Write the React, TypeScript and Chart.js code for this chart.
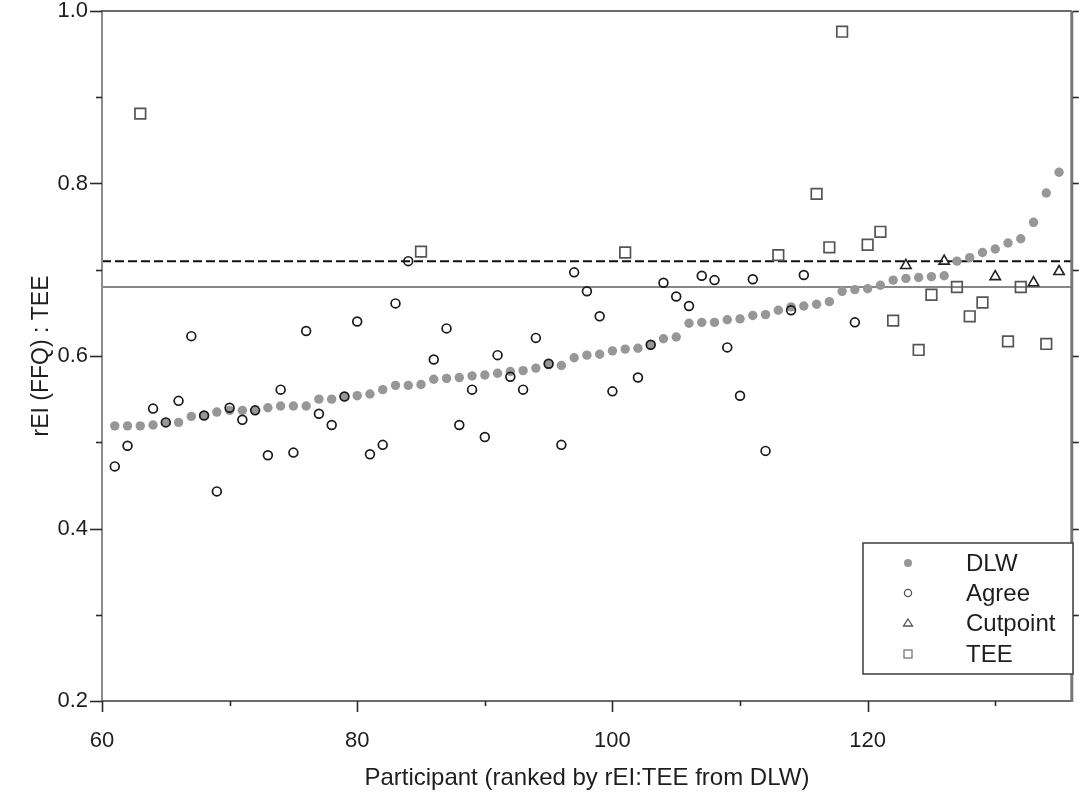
import React, { useEffect, useRef } from 'react';
import { Chart, registerables } from 'chart.js';

Chart.register(...registerables);

// ---------- data ----------
const dlwParticipants = [
  61, 62, 63, 64, 65, 66, 67, 68, 69, 70, 71, 72, 73, 74, 75, 76, 77, 78, 79, 80,
  81, 82, 83, 84, 85, 86, 87, 88, 89, 90, 91, 92, 93, 94, 95, 96, 97, 98, 99, 100,
  101, 102, 103, 104, 105, 106, 107, 108, 109, 110, 111, 112, 113, 114, 115, 116, 117, 118, 119, 120,
  121, 122, 123, 124, 125, 126, 127, 128, 129, 130, 131, 132, 133, 134, 135,
];
const dlwValues = [
  0.519, 0.519, 0.519, 0.52, 0.523, 0.523, 0.53, 0.531, 0.535, 0.537, 0.537, 0.537, 0.54, 0.542, 0.542, 0.542, 0.55, 0.55, 0.553, 0.554,
  0.556, 0.561, 0.566, 0.566, 0.567, 0.573, 0.574, 0.575, 0.577, 0.578, 0.58, 0.582, 0.583, 0.586, 0.59, 0.589, 0.598, 0.601, 0.602, 0.606,
  0.608, 0.609, 0.613, 0.62, 0.622, 0.638, 0.639, 0.639, 0.642, 0.643, 0.647, 0.648, 0.653, 0.657, 0.658, 0.66, 0.663, 0.675, 0.677, 0.678,
  0.682, 0.688, 0.69, 0.691, 0.692, 0.693, 0.71, 0.714, 0.72, 0.724, 0.731, 0.736, 0.755, 0.789, 0.813,
];

const agreeParticipants = [
  61, 62, 64, 65, 66, 67, 68, 69, 70, 71, 72, 73, 74, 75, 76, 77, 78, 79, 80, 81,
  82, 83, 84, 86, 87, 88, 89, 90, 91, 92, 93, 94, 95, 96, 97, 98, 99, 100, 102, 103,
  104, 105, 106, 107, 108, 109, 110, 111, 112, 114, 115, 119,
];
const agreeValues = [
  0.472, 0.496, 0.539, 0.523, 0.548, 0.623, 0.531, 0.443, 0.54, 0.526, 0.537, 0.485, 0.561, 0.488, 0.629, 0.533, 0.52, 0.553, 0.64, 0.486,
  0.497, 0.661, 0.71, 0.596, 0.632, 0.52, 0.561, 0.506, 0.601, 0.576, 0.561, 0.621, 0.591, 0.497, 0.697, 0.675, 0.646, 0.559, 0.575, 0.613,
  0.685, 0.669, 0.658, 0.693, 0.688, 0.61, 0.554, 0.689, 0.49, 0.653, 0.694, 0.639,
];

const cutpointParticipants = [123, 126, 130, 133, 135];
const cutpointValues = [0.705, 0.71, 0.692, 0.685, 0.698];

const teeParticipants = [63, 85, 101, 113, 116, 117, 118, 120, 121, 122, 124, 125, 127, 128, 129, 131, 132, 134];
const teeValues = [0.881, 0.721, 0.72, 0.717, 0.788, 0.726, 0.976, 0.729, 0.744, 0.641, 0.607, 0.671, 0.68, 0.646, 0.662, 0.617, 0.68, 0.614];

const dashedLineValue = 0.71;
const solidLineValue = 0.68;

const xTickLabels = [60, 80, 100, 120];
const xMinorTicks = [70, 90, 110, 130];
const yTickLabels = [0.2, 0.4, 0.6, 0.8, 1.0];
const yMinorTicks = [0.3, 0.5, 0.7, 0.9];

const xRange = [60, 136];
const yRange = [0.2, 1.0];

const legendLabels = ['DLW', 'Agree', 'Cutpoint', 'TEE'];

const FONT = "'Liberation Sans', Arial, sans-serif";
const TEXT = '#1e1e1e';

const zip = (xs: number[], ys: number[]) => xs.map((x, i) => ({ x, y: ys[i] }));

const framePlugin = {
  id: 'frameAndLegend',
  afterDraw(chart: any) {
    const { ctx, chartArea: ca, scales } = chart;
    const xs = scales.x;
    const ys = scales.y;
    ctx.save();
    // frame
    ctx.lineCap = 'butt';
    ctx.strokeStyle = '#8c8c8c';
    ctx.lineWidth = 2;
    ctx.beginPath();
    ctx.moveTo(ca.left, ca.top);
    ctx.lineTo(ca.left, ca.bottom);
    ctx.stroke();
    ctx.strokeStyle = '#6a6a6a';
    ctx.beginPath();
    ctx.moveTo(ca.left - 1, ca.top);
    ctx.lineTo(ca.right, ca.top);
    ctx.stroke();
    ctx.beginPath();
    ctx.moveTo(ca.left, ca.bottom);
    ctx.lineTo(ca.right, ca.bottom);
    ctx.stroke();
    ctx.strokeStyle = '#777777';
    ctx.lineWidth = 3;
    ctx.beginPath();
    ctx.moveTo(ca.right, ca.top);
    ctx.lineTo(ca.right, ca.bottom + 1);
    ctx.stroke();

    // ticks
    ctx.strokeStyle = '#2a2a2a';
    ctx.lineWidth = 1.6;
    const yLine = (v: number, x0: number, x1: number) => {
      const p = Math.round(ys.getPixelForValue(v)) + 0.5;
      ctx.beginPath();
      ctx.moveTo(x0, p);
      ctx.lineTo(x1, p);
      ctx.stroke();
    };
    const xLine = (v: number, y0: number, y1: number) => {
      const p = Math.round(xs.getPixelForValue(v)) + 0.5;
      ctx.beginPath();
      ctx.moveTo(p, y0);
      ctx.lineTo(p, y1);
      ctx.stroke();
    };
    yTickLabels.forEach((v) => yLine(v, ca.left - 12, ca.left));
    yMinorTicks.forEach((v) => yLine(v, ca.left - 6, ca.left));
    [...yTickLabels, ...yMinorTicks].forEach((v) => {
      if (v < 0.25) return;
      yLine(v, ca.right + 1, ca.right + 7);
    });
    xTickLabels.forEach((v) => xLine(v, ca.bottom, ca.bottom + 11));
    xMinorTicks.forEach((v) => xLine(v, ca.bottom, ca.bottom + 5));

    // legend
    const bx = 863, by = 543, bw = 210, bh = 131;
    ctx.fillStyle = '#ffffff';
    ctx.fillRect(bx, by, bw, bh);
    ctx.strokeStyle = '#3c3c3c';
    ctx.lineWidth = 1.5;
    ctx.strokeRect(bx, by, bw, bh);
    const rows = [563, 593, 623, 654];
    const mx = 908;
    ctx.font = `24px ${FONT}`;
    ctx.textBaseline = 'middle';
    ctx.textAlign = 'left';
    legendLabels.forEach((lab, i) => {
      const y = rows[i];
      ctx.lineWidth = 1.3;
      if (i === 0) {
        ctx.fillStyle = '#979797';
        ctx.beginPath();
        ctx.arc(mx, y, 4, 0, Math.PI * 2);
        ctx.fill();
      } else if (i === 1) {
        ctx.strokeStyle = '#555555';
        ctx.beginPath();
        ctx.arc(mx, y, 3.6, 0, Math.PI * 2);
        ctx.stroke();
      } else if (i === 2) {
        ctx.strokeStyle = '#555555';
        ctx.beginPath();
        ctx.moveTo(mx, y - 4);
        ctx.lineTo(mx + 4.5, y + 3);
        ctx.lineTo(mx - 4.5, y + 3);
        ctx.closePath();
        ctx.stroke();
      } else {
        ctx.strokeStyle = '#777777';
        ctx.strokeRect(mx - 4, y - 4, 8, 8);
      }
      ctx.fillStyle = TEXT;
      ctx.fillText(lab, 966, y + 1);
    });
    ctx.restore();
  },
};

export default function App() {
  const ref = useRef<HTMLCanvasElement>(null);

  useEffect(() => {
    document.body.style.margin = '0';
    const canvas = ref.current;
    if (!canvas) return;
    const chart = new Chart(canvas, {
      type: 'scatter',
      data: {
        datasets: [
          {
            label: 'DLW',
            data: zip(dlwParticipants, dlwValues),
            pointStyle: 'circle',
            pointRadius: 4.7,
            pointBackgroundColor: '#979797',
            pointBorderWidth: 0,
            borderColor: '#979797',
            backgroundColor: '#979797',
            order: 5,
          } as any,
          {
            label: 'Agree',
            data: zip(agreeParticipants, agreeValues),
            pointStyle: 'circle',
            pointRadius: 4.4,
            pointBackgroundColor: 'rgba(0,0,0,0)',
            pointBorderColor: '#1a1a1a',
            pointBorderWidth: 1.7,
            order: 1,
          } as any,
          {
            label: 'Cutpoint',
            data: zip(cutpointParticipants, cutpointValues),
            pointStyle: 'triangle',
            pointRadius: 6,
            pointBackgroundColor: 'rgba(0,0,0,0)',
            pointBorderColor: '#222222',
            pointBorderWidth: 1.6,
            order: 1,
          } as any,
          {
            label: 'TEE',
            data: zip(teeParticipants, teeValues),
            pointStyle: 'rect',
            pointRadius: 7.5,
            pointBackgroundColor: 'rgba(0,0,0,0)',
            pointBorderColor: '#555555',
            pointBorderWidth: 1.7,
            order: 1,
          } as any,
          {
            type: 'line',
            label: 'dashed',
            data: [
              { x: xRange[0], y: dashedLineValue },
              { x: xRange[1], y: dashedLineValue },
            ],
            borderColor: '#111111',
            borderWidth: 2,
            borderDash: [9, 4],
            pointRadius: 0,
            showLine: true,
            order: 10,
          } as any,
          {
            type: 'line',
            label: 'solid',
            data: [
              { x: xRange[0], y: solidLineValue },
              { x: xRange[1], y: solidLineValue },
            ],
            borderColor: '#888888',
            borderWidth: 2,
            pointRadius: 0,
            showLine: true,
            order: 10,
          } as any,
        ],
      },
      options: {
        responsive: false,
        animation: false,
        devicePixelRatio: 1,
        layout: { padding: { top: 11, right: 6, left: 0, bottom: 0 } },
        plugins: {
          legend: { display: false },
          tooltip: { enabled: false },
        },
        scales: {
          x: {
            type: 'linear',
            min: xRange[0],
            max: xRange[1],
            grid: { display: false, drawTicks: false },
            border: { display: false },
            ticks: {
              stepSize: 10,
              padding: 27,
              color: TEXT,
              font: { family: FONT, size: 22 },
              maxRotation: 0,
              autoSkip: false,
              callback: (v: any) => (xTickLabels.includes(Number(v)) ? String(v) : ''),
            },
            title: {
              display: true,
              text: 'Participant (ranked by rEI:TEE from DLW)',
              color: TEXT,
              font: { family: FONT, size: 24 },
              padding: { top: 0, bottom: 2 },
            },
            afterFit: (s: any) => {
              s.height = 94;
              s.paddingLeft = 0;
              s.paddingRight = 0;
              s.paddingTop = 0;
              s.paddingBottom = 0;
            },
          },
          y: {
            type: 'linear',
            min: yRange[0],
            max: yRange[1],
            grid: { display: false, drawTicks: false },
            border: { display: false },
            ticks: {
              stepSize: 0.1,
              padding: 14,
              color: TEXT,
              font: { family: FONT, size: 22 },
              autoSkip: false,
              callback: (v: any) => {
                const n = Number(v);
                return yTickLabels.some((t) => Math.abs(t - n) < 1e-6) ? n.toFixed(1) : '';
              },
            },
            title: {
              display: true,
              text: 'rEI (FFQ) : TEE',
              color: TEXT,
              font: { family: FONT, size: 23 },
              padding: { top: 28, bottom: 0 },
            },
            afterFit: (s: any) => {
              s.width = 102;
              s.paddingLeft = 0;
              s.paddingRight = 0;
              s.paddingTop = 0;
              s.paddingBottom = 0;
            },
          },
        },
      },
      plugins: [framePlugin],
    });
    return () => chart.destroy();
  }, []);

  return (
    <canvas
      ref={ref}
      width={1081}
      height={795}
      style={{ display: 'block', width: '1081px', height: '795px' }}
    />
  );
}
